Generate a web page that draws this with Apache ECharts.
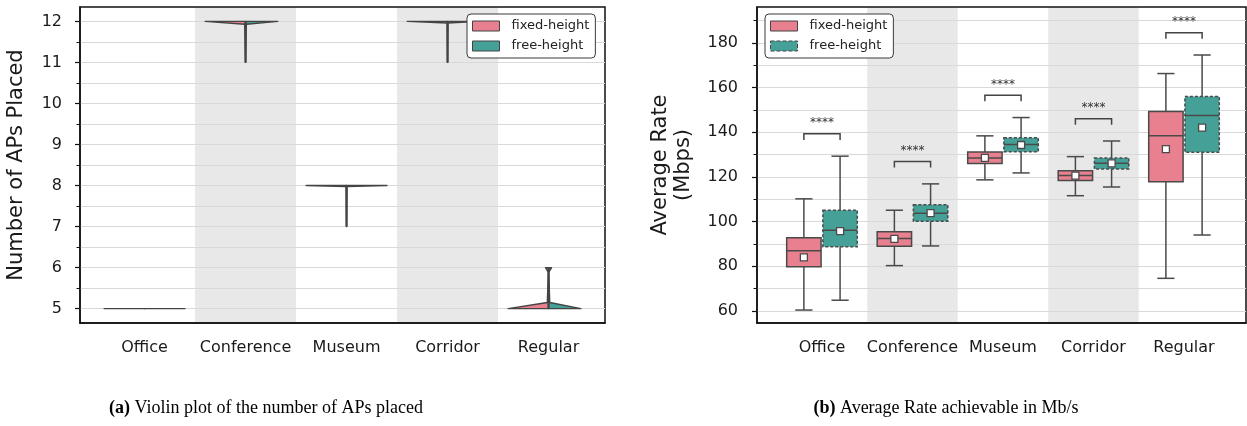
<!DOCTYPE html>
<html><head><meta charset="utf-8">
<script src="https://cdn.jsdelivr.net/npm/echarts@6/dist/echarts.min.js"></script>
<style>html,body{margin:0;padding:0;background:#fff}#c{width:1247px;height:426px}</style>
</head><body><div id="c"></div><script>
// ---------- data ----------
const categories = ['Office', 'Conference', 'Museum', 'Corridor', 'Regular'];
const hueNames = ['fixed-height', 'free-height'];
// violin profiles of "Number of APs placed": [value, relative density]
const apsFixedProfile = [
  [[5, 1]],
  [[11, 0], [11.93, 0.02], [12, 1]],
  [[7, 0], [7.975, 0.01], [8, 1]],
  [[11, 0], [11.96, 0.01], [12, 1]],
  [[5, 1], [5.15, 0.03], [5.88, 0.005], [6, 0.075]]
];
const apsFreeProfile = [
  [[5, 1]],
  [[11, 0], [11.93, 0.02], [12, 0.8]],
  [[7, 0], [7.975, 0.01], [8, 1]],
  [[11, 0], [11.96, 0.01], [12, 0.8]],
  [[5, 0.8], [5.15, 0.03], [5.88, 0.005], [6, 0.075]]
];
const apsTicks = [5, 6, 7, 8, 9, 10, 11, 12];
// Average rate box stats: [min, q1, median, q3, max]
const rateFixed = [
  [60.4, 79.8, 86.9, 92.8, 110.2],
  [80.3, 89.0, 92.4, 95.5, 105.1],
  [118.7, 126.0, 128.5, 131.2, 138.4],
  [111.6, 118.4, 120.6, 122.8, 129.1],
  [74.6, 117.9, 138.4, 149.3, 166.3]
];
const rateFree = [
  [64.8, 88.7, 96.1, 105.1, 129.3],
  [89.1, 100.2, 103.7, 107.6, 116.9],
  [121.8, 131.3, 134.5, 137.6, 146.6],
  [115.5, 123.6, 126.1, 128.5, 136.1],
  [94.0, 131.1, 147.5, 156.0, 174.6]
];
const meanFixed = [84.0, 92.3, 128.5, 120.6, 132.5];
const meanFree = [95.7, 103.8, 134.3, 126.1, 142.1];
const sigLabels = ['****', '****', '****', '****', '****'];
const rateTicks = [60, 80, 100, 120, 140, 160, 180];
const shadedCategories = [1, 3];

// ---------- style ----------
const PINK = '#e8808f';
const TEAL = '#45a097';
const EDGE = '#4a4a4a';
const FONT = 'DejaVu Sans';
const GRID_COLOR = '#d9d9d9';

function halfSteps(ticks) {
  const step = ticks[1] - ticks[0];
  const out = [ticks[0] - step / 2];
  for (let i = 0; i < ticks.length; i++) {
    out.push(ticks[i]);
    out.push(ticks[i] + step / 2);
  }
  return out;
}

const chart = echarts.init(document.getElementById('c'), null, {renderer: 'canvas'});

const idx = categories.map((_, i) => i);

function yAxes(gridIndex, min, max, ticks, margin) {
  const minor = halfSteps(ticks).filter(v => v >= min && v <= max);
  return [
    {
      gridIndex, type: 'value', min, max, position: 'left',
      axisLine: {show: true, onZero: false, lineStyle: {color: '#111', width: 1.5}},
      axisTick: {show: true, customValues: ticks, length: 5, lineStyle: {color: '#111', width: 1.2}},
      axisLabel: {customValues: ticks, fontSize: 16, fontFamily: FONT, color: '#1a1a1a', margin},
      splitLine: {show: false}
    },
    {
      gridIndex, type: 'value', min, max, position: 'left',
      axisLine: {show: false, onZero: false},
      axisTick: {show: true, customValues: minor, length: 3.5, lineStyle: {color: '#111', width: 1}},
      axisLabel: {show: false},
      splitLine: {show: true, lineStyle: {color: GRID_COLOR, width: 1.2}}
    }
  ];
}

function xAxis(gridIndex, min, max) {
  return {
    gridIndex, type: 'value', min, max,
    axisLine: {show: true, onZero: false, lineStyle: {color: '#111', width: 1.5}},
    axisTick: {show: false},
    splitLine: {show: false},
    axisLabel: {
      customValues: idx, formatter: v => categories[Math.round(v)] || '',
      fontSize: 16, fontFamily: FONT, color: '#1a1a1a', margin: 17
    }
  };
}

function shadeSeries(xi, yi) {
  return {
    type: 'line', xAxisIndex: xi, yAxisIndex: yi, data: [], z: -1, silent: true,
    markArea: {
      silent: true, z: -1,
      itemStyle: {color: '#e8e8e8'},
      data: shadedCategories.map(c => [{xAxis: c - 0.5}, {xAxis: c + 0.5}])
    }
  };
}

const HALF_W = 0.4;
function violinSeries(profiles, side, color, name) {
  return {
    type: 'custom', name, xAxisIndex: 0, yAxisIndex: 0, z: 3,
    itemStyle: {color},
    data: idx.map(i => [i, profiles[i][0][0], profiles[i][profiles[i].length - 1][0]]),
    encode: {x: 0, y: [1, 2]},
    renderItem: (params, api) => {
      const i = api.value(0);
      const prof = profiles[i];
      const pts = [];
      pts.push(api.coord([i, prof[0][0]]));
      prof.forEach(([v, d]) => pts.push(api.coord([i + side * HALF_W * d, v])));
      pts.push(api.coord([i, prof[prof.length - 1][0]]));
      return {
        type: 'polygon', shape: {points: pts},
        style: {fill: color, stroke: '#444', lineWidth: 1.4, lineJoin: 'round'}
      };
    }
  };
}

function stickSeries() {
  return {
    type: 'custom', xAxisIndex: 0, yAxisIndex: 0, z: 4, silent: true,
    data: idx.map(i => {
      const lo = Math.min(apsFixedProfile[i][0][0], apsFreeProfile[i][0][0]);
      const hi = Math.max(apsFixedProfile[i][apsFixedProfile[i].length - 1][0], apsFreeProfile[i][apsFreeProfile[i].length - 1][0]);
      return [i, lo, hi];
    }),
    encode: {x: 0, y: [1, 2]},
    renderItem: (params, api) => {
      const i = api.value(0);
      const a = api.coord([i, api.value(1)]);
      const b = api.coord([i, api.value(2)]);
      if (Math.abs(a[1] - b[1]) < 0.5) return {type: 'group', children: []};
      return {type: 'line', shape: {x1: a[0], y1: a[1], x2: b[0], y2: b[1]}, style: {stroke: '#444', lineWidth: 2}};
    }
  };
}

const BOX_W = 0.38;
function boxSeries(stats, means, offset, color, dashed, name) {
  return {
    type: 'custom', name, xAxisIndex: 1, yAxisIndex: 2, z: 3,
    itemStyle: {color},
    data: idx.map(i => [i, ...stats[i], means[i]]),
    encode: {x: 0, y: [1, 5]},
    renderItem: (params, api) => {
      const i = api.value(0);
      const c = i + offset;
      const [mn, q1, md, q3, mx, mean] = [1, 2, 3, 4, 5, 6].map(k => api.value(k));
      const L = api.coord([c - BOX_W / 2, q3]);
      const R = api.coord([c + BOX_W / 2, q1]);
      const cx = api.coord([c, md])[0];
      const capL = api.coord([c - BOX_W / 4, 0])[0];
      const capR = api.coord([c + BOX_W / 4, 0])[0];
      const y = v => api.coord([c, v])[1];
      const ls = {stroke: EDGE, lineWidth: 1.5};
      const m = api.coord([c, mean]);
      return {
        type: 'group', children: [
          {type: 'line', shape: {x1: cx, y1: y(mx), x2: cx, y2: y(q3)}, style: ls},
          {type: 'line', shape: {x1: cx, y1: y(q1), x2: cx, y2: y(mn)}, style: ls},
          {type: 'line', shape: {x1: capL, y1: y(mx), x2: capR, y2: y(mx)}, style: ls},
          {type: 'line', shape: {x1: capL, y1: y(mn), x2: capR, y2: y(mn)}, style: ls},
          {type: 'rect', shape: {x: L[0], y: L[1], width: R[0] - L[0], height: R[1] - L[1]},
            style: {fill: color, stroke: EDGE, lineWidth: 1.5, lineDash: dashed ? [3, 2] : null}},
          {type: 'line', shape: {x1: L[0], y1: y(md), x2: R[0], y2: y(md)}, style: ls},
          {type: 'rect', shape: {x: m[0] - 3.5, y: m[1] - 3.5, width: 7, height: 7},
            style: {fill: '#fff', stroke: EDGE, lineWidth: 1.3}}
        ]
      };
    }
  };
}

const BR_GAP = 10, BR_LEG = 2.7, STAR_GAP = 4.8;
function bracketSeries() {
  return {
    type: 'custom', xAxisIndex: 1, yAxisIndex: 2, z: 5, silent: true,
    data: idx.map(i => [i, Math.max(rateFixed[i][4], rateFree[i][4])]),
    encode: {x: 0, y: 1},
    renderItem: (params, api) => {
      const i = api.value(0);
      const top = api.value(1) + BR_GAP;
      const a = api.coord([i - 0.2, top - BR_LEG]);
      const b = api.coord([i - 0.2, top]);
      const c = api.coord([i + 0.2, top]);
      const d = api.coord([i + 0.2, top - BR_LEG]);
      const t = api.coord([i, top + STAR_GAP]);
      return {
        type: 'group', children: [
          {type: 'polyline', shape: {points: [a, b, c, d]}, style: {stroke: '#444', lineWidth: 1.5, fill: null}},
          {type: 'text', x: t[0], y: t[1], style: {text: sigLabels[i], align: 'center', verticalAlign: 'middle',
            font: '12px "DejaVu Sans"', fill: '#333'}}
        ]
      };
    }
  };
}

function legendCfg(left, dashedFree) {
  return {
    left, top: 14, orient: 'vertical', icon: 'rect',
    itemWidth: 27, itemHeight: 10, itemGap: 6,
    backgroundColor: '#fff', borderColor: '#3a3a3a', borderWidth: 1, borderRadius: 4,
    padding: [5, 6, 5, 5],
    textStyle: {fontSize: 13, fontFamily: FONT, color: '#222', lineHeight: 14, padding: [0, 0, 0, 7]},
    data: [
      {name: hueNames[0], itemStyle: {color: PINK, borderColor: '#444', borderWidth: 1}},
      {name: hueNames[1], itemStyle: {color: TEAL, borderColor: '#444', borderWidth: 1, borderType: dashedFree ? 'dashed' : 'solid'}}
    ],
    selectedMode: false
  };
}

const option = {
  animation: false,
  backgroundColor: '#fff',
  grid: [
    {left: 80, top: 7, width: 525, height: 316, show: true, borderColor: '#111', borderWidth: 1.5, backgroundColor: 'transparent'},
    {left: 757, top: 7, width: 489, height: 316, show: true, borderColor: '#111', borderWidth: 1.5, backgroundColor: 'transparent'}
  ],
  xAxis: [xAxis(0, -0.639, 4.559), xAxis(1, -0.718, 4.685)],
  yAxis: [...yAxes(0, 4.65, 12.35, apsTicks, 18), ...yAxes(1, 54.6, 196.1, rateTicks, 19)],
  legend: [legendCfg(467, false), legendCfg(765, true)],
  series: [
    shadeSeries(0, 0), shadeSeries(1, 2),
    violinSeries(apsFixedProfile, -1, PINK, hueNames[0]),
    violinSeries(apsFreeProfile, 1, TEAL, hueNames[1]),
    stickSeries(),
    boxSeries(rateFixed, meanFixed, -0.2, PINK, false, hueNames[0]),
    boxSeries(rateFree, meanFree, 0.2, TEAL, true, hueNames[1]),
    bracketSeries()
  ],
  graphic: [
    {type: 'text', x: 17, y: 165, rotation: Math.PI / 2,
      style: {text: 'Number of APs Placed', align: 'center', verticalAlign: 'middle', font: '21px "DejaVu Sans"', fill: '#1a1a1a'}},
    {type: 'text', x: 672, y: 165, rotation: Math.PI / 2,
      style: {text: 'Average Rate\n(Mbps)', align: 'center', verticalAlign: 'middle', lineHeight: 23, font: '21px "DejaVu Sans"', fill: '#1a1a1a'}},
    {type: 'text', x: 266, y: 408,
      style: {text: '{b|(a)} Violin plot of the number of APs placed', align: 'center', verticalAlign: 'middle',
        font: '18px "Liberation Serif"', fill: '#000', rich: {b: {fontWeight: 'bold', fontSize: 18, fontFamily: 'Liberation Serif'}}}},
    {type: 'text', x: 946, y: 408,
      style: {text: '{b|(b)} Average Rate achievable in Mb/s', align: 'center', verticalAlign: 'middle',
        font: '18px "Liberation Serif"', fill: '#000', rich: {b: {fontWeight: 'bold', fontSize: 18, fontFamily: 'Liberation Serif'}}}}
  ]
};
chart.setOption(option);
</script></body></html>
